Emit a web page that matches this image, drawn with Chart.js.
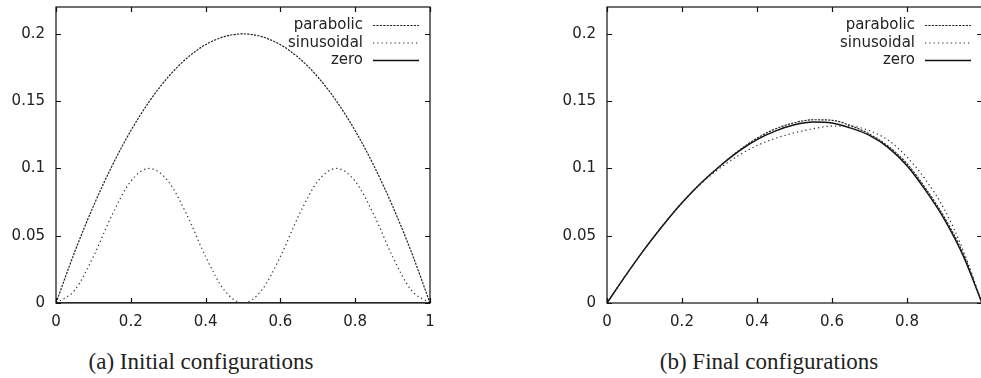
<!DOCTYPE html>
<html><head><meta charset="utf-8">
<script src="https://cdn.jsdelivr.net/npm/chart.js@4/dist/chart.umd.min.js"></script>
<style>
html,body{margin:0;padding:0;width:981px;height:378px;overflow:hidden;background:#fff;}
#w1{position:absolute;left:0;top:0;width:490px;height:340px;}
#w2{position:absolute;left:490px;top:0;width:500px;height:340px;}
.cap{position:absolute;top:348px;font-family:'Liberation Serif',serif;font-size:23px;line-height:28px;color:#222;white-space:nowrap;transform:translateX(-50%);}
</style></head>
<body>
<div id="w1"><canvas id="c1"></canvas></div>
<div id="w2"><canvas id="c2"></canvas></div>
<div class="cap" style="left:201px">(a) Initial configurations</div>
<div class="cap" style="left:769px">(b) Final configurations</div>
<script>
// ---- data ----
const seriesNames = ['parabolic', 'sinusoidal', 'zero'];
const xs = [0,0.05,0.1,0.15,0.2,0.25,0.3,0.35,0.4,0.45,0.5,0.55,0.6,0.65,0.7,0.75,0.8,0.85,0.9,0.95,1];
// (a) initial configurations
const initParabolic = [0,0.038,0.072,0.102,0.128,0.15,0.168,0.182,0.192,0.198,0.2,0.198,0.192,0.182,0.168,0.15,0.128,0.102,0.072,0.038,0];
const initSinusoidal = [0,0.0095,0.0345,0.0655,0.0905,0.1,0.0905,0.0655,0.0345,0.0095,0,0.0095,0.0345,0.0655,0.0905,0.1,0.0905,0.0655,0.0345,0.0095,0];
const initZero = [0,0,0,0,0,0,0,0,0,0,0,0,0,0,0,0,0,0,0,0,0];
// (b) final configurations
const finalParabolic = [0,0.0205,0.040,0.058,0.0745,0.089,0.1015,0.113,0.1225,0.1295,0.134,0.1362,0.1358,0.1318,0.1255,0.1165,0.1035,0.085,0.0635,0.0365,0];
const finalSinusoidal = [0,0.0205,0.040,0.058,0.0745,0.0885,0.100,0.1095,0.117,0.1225,0.1265,0.1295,0.1315,0.1315,0.128,0.121,0.1085,0.0915,0.0695,0.039,0];
const finalZero = [0,0.0205,0.040,0.058,0.0745,0.089,0.1015,0.1125,0.1215,0.128,0.1325,0.1345,0.1338,0.130,0.1245,0.1155,0.102,0.0835,0.062,0.035,0];
// ticks
const yTicks = [0,0.05,0.1,0.15,0.2];
const xTicksA = [0,0.2,0.4,0.6,0.8,1];
const xTicksB = [0,0.2,0.4,0.6,0.8];

// ---- styles ----
const styles = [
  {borderColor:'#222', borderWidth:1.2, borderDash:[2.2,1.2]},
  {borderColor:'#333', borderWidth:1.2, borderDash:[1.3,3]},
  {borderColor:'#111', borderWidth:1.4, borderDash:[]}
];
const FONT = "'DejaVu Sans', 'Liberation Sans', sans-serif";
Chart.defaults.font.family = FONT;
Chart.defaults.color = '#222';

const fmt = v => String(+(+v).toFixed(2));
const TL = 5;

const framePlugin = {
  id:'frame',
  afterDatasetsDraw(chart){
    const {ctx, chartArea:a, scales:{x,y}} = chart;
    ctx.save();
    ctx.strokeStyle = '#111'; ctx.lineWidth = 1.2; ctx.setLineDash([]);
    ctx.beginPath();
    x.ticks.forEach(t=>{const p=Math.round(x.getPixelForValue(t.value))+0.5;
      ctx.moveTo(p,a.bottom); ctx.lineTo(p,a.bottom-TL);
      ctx.moveTo(p,a.top); ctx.lineTo(p,a.top+TL);});
    y.ticks.forEach(t=>{const p=Math.round(y.getPixelForValue(t.value))+0.5;
      ctx.moveTo(a.left,p); ctx.lineTo(a.left+TL,p);
      ctx.moveTo(a.right,p); ctx.lineTo(a.right-TL,p);});
    ctx.stroke();
    ctx.strokeRect(a.left, a.top, a.right-a.left, a.bottom-a.top);
    // key
    ctx.font = "15px " + FONT;
    ctx.textAlign = 'right'; ctx.textBaseline = 'middle';
    chart.data.datasets.forEach((ds,i)=>{
      const yy = a.top + 18.5 + i*17.5;
      ctx.fillStyle = '#222';
      ctx.fillText(ds.label, a.right-67, yy);
      ctx.strokeStyle = ds.borderColor; ctx.lineWidth = ds.borderWidth;
      ctx.setLineDash(ds.borderDash);
      ctx.beginPath(); ctx.moveTo(a.right-57, yy); ctx.lineTo(a.right-11, yy); ctx.stroke();
    });
    ctx.restore();
  }
};

function makeDatasets(vals){
  return vals.map((v,i)=>({
    label: seriesNames[i],
    data: xs.map((x,j)=>({x:x, y:v[j]})),
    borderColor: styles[i].borderColor,
    borderWidth: styles[i].borderWidth,
    borderDash: styles[i].borderDash,
    pointRadius: 0,
    fill: false,
    cubicInterpolationMode: 'monotone'
  }));
}

function makeChart(id, vals, xTicks, padRight, yWidth){
  return new Chart(document.getElementById(id), {
    type:'line',
    data:{datasets: makeDatasets(vals)},
    options:{
      responsive:true, maintainAspectRatio:false, animation:false,
      layout:{padding:{top:7, right:padRight, left:0, bottom:0}},
      plugins:{legend:{display:false}, tooltip:{enabled:false}},
      scales:{
        x:{type:'linear', min:0, max:1,
           afterBuildTicks:s=>{s.ticks = xTicks.map(v=>({value:v}));},
           grid:{display:false, drawTicks:false}, border:{display:false},
           ticks:{padding:10, font:{size:15}, color:'#222', maxRotation:0, autoSkip:false, callback:v=>fmt(v)},
           afterFit:s=>{s.height = 37; s.paddingLeft = 0; s.paddingRight = 0;}},
        y:{type:'linear', min:0, max:0.22,
           afterBuildTicks:s=>{s.ticks = yTicks.map(v=>({value:v}));},
           grid:{display:false, drawTicks:false}, border:{display:false},
           ticks:{padding:11, font:{size:15}, color:'#222', autoSkip:false, callback:v=>fmt(v)},
           afterFit:s=>{s.width = yWidth; s.paddingTop = 0; s.paddingBottom = 0;}}
      }
    },
    plugins:[framePlugin]
  });
}

makeChart('c1', [initParabolic, initSinusoidal, initZero], xTicksA, 60, 56);
makeChart('c2', [finalParabolic, finalSinusoidal, finalZero], xTicksB, 8, 117);
</script>
</body></html>
